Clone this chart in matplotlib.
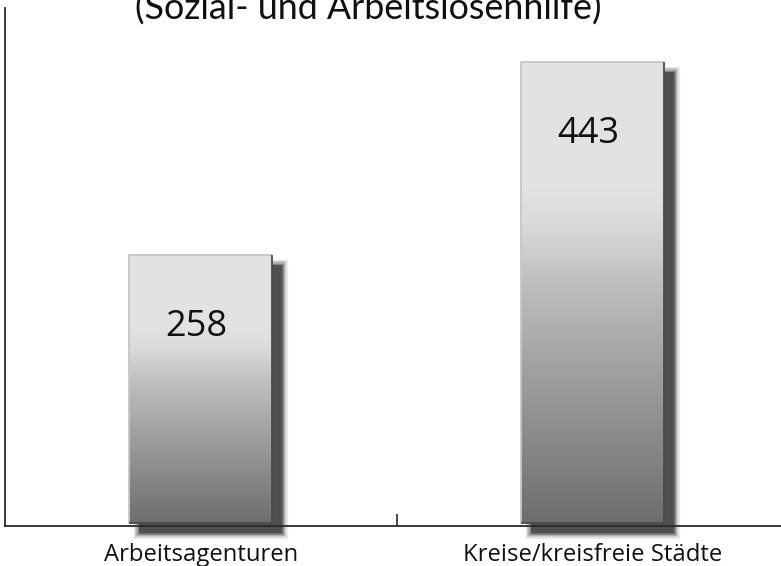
import numpy as np
import matplotlib
matplotlib.use("Agg")
import matplotlib.pyplot as plt
from matplotlib.patches import Rectangle
from matplotlib.transforms import ScaledTranslation

categories = ["Arbeitsagenturen", "Kreise/kreisfreie Städte"]
values = [258, 443]
title_text = "(Sozial- und Arbeitslosenhilfe)"

W, H, DPI = 781, 566, 100
fig = plt.figure(figsize=(W / DPI, H / DPI), dpi=DPI)
left_px, right_px, top_px, bottom_px = 5, 788, 8, 526
ax = fig.add_axes([left_px / W, (H - bottom_px) / H,
                   (right_px - left_px) / W, (bottom_px - top_px) / H])
ax.set_xlim(-0.5, 1.5)
ax.set_ylim(-3, 495)

x = np.arange(len(categories))
bars = ax.bar(x, values, width=0.365, color="none", edgecolor="none", zorder=2)

# gradient: light flat top, smooth blend into dark bottom
n = 256
t = np.linspace(0, 1, n)
light, dark, knee = 0.89, 0.43, 0.76
lin = np.clip(t / knee, 0, 1)
s = np.where(lin > 0.7, 0.7 + 0.3 * np.sin((lin - 0.7) / 0.3 * np.pi / 2), lin)
g = dark + (light - dark) * s
img = np.dstack([g, g, g]).reshape(n, 1, 3)

shadow_off = ScaledTranslation(10 / DPI, -10 / DPI, fig.dpi_scale_trans)
for b in bars:
    x0, y0, w, h = b.get_x(), b.get_y(), b.get_width(), b.get_height()
    # soft shadow
    for lw, a in [(8, 0.12), (6, 0.18), (4, 0.28), (2, 0.45)]:
        ax.add_patch(Rectangle((x0, y0), w, h, facecolor="#505050", edgecolor="#505050",
                               lw=lw, alpha=a, transform=ax.transData + shadow_off,
                               zorder=0.5, clip_on=False))
    ax.add_patch(Rectangle((x0, y0), w, h, facecolor="#505050", edgecolor="none",
                           transform=ax.transData + shadow_off, zorder=0.6, clip_on=False))
    ax.imshow(img, extent=(x0, x0 + w, y0, y0 + h), origin="lower", aspect="auto",
              zorder=2, interpolation="bilinear")
    ax.plot([x0, x0, x0 + w], [y0, y0 + h, y0 + h], color="#c6c6c6", lw=1.3, zorder=3,
            solid_capstyle="butt")
    ax.plot([x0 + w, x0 + w, x0], [y0 + h, y0, y0], color="#4a4a4a", lw=1.3, zorder=3,
            solid_capstyle="butt")
    ax.annotate(f"{int(h)}", xy=(x0 + w / 2, y0 + h), xytext=(-3, -52),
                textcoords="offset points", ha="center", va="center",
                fontsize=26, family="Open Sans", color="#111111", zorder=4)

ax.set_xlim(-0.5, 1.5)
ax.set_ylim(-3, 495)

for sp in ["top", "right"]:
    ax.spines[sp].set_visible(False)
for sp in ["left", "bottom"]:
    ax.spines[sp].set_color("#2a2a2a")
    ax.spines[sp].set_linewidth(1.3)
    ax.spines[sp].set_zorder(5)

ax.set_yticks([])
ax.set_xticks(x)
ax.set_xticklabels(categories, fontsize=17.2, family="Open Sans", color="#111111")
ax.tick_params(axis="x", which="major", length=0, pad=12)
ax.set_xticks([0.5], minor=True)
ax.tick_params(axis="x", which="minor", direction="in", length=9, width=1.2, color="#2a2a2a")

fig.text(368 / W, 1 - 20 / H, title_text, ha="center", va="baseline",
         fontsize=25.8, family="Lato", color="#111111")

fig.savefig("out.png", dpi=DPI)
